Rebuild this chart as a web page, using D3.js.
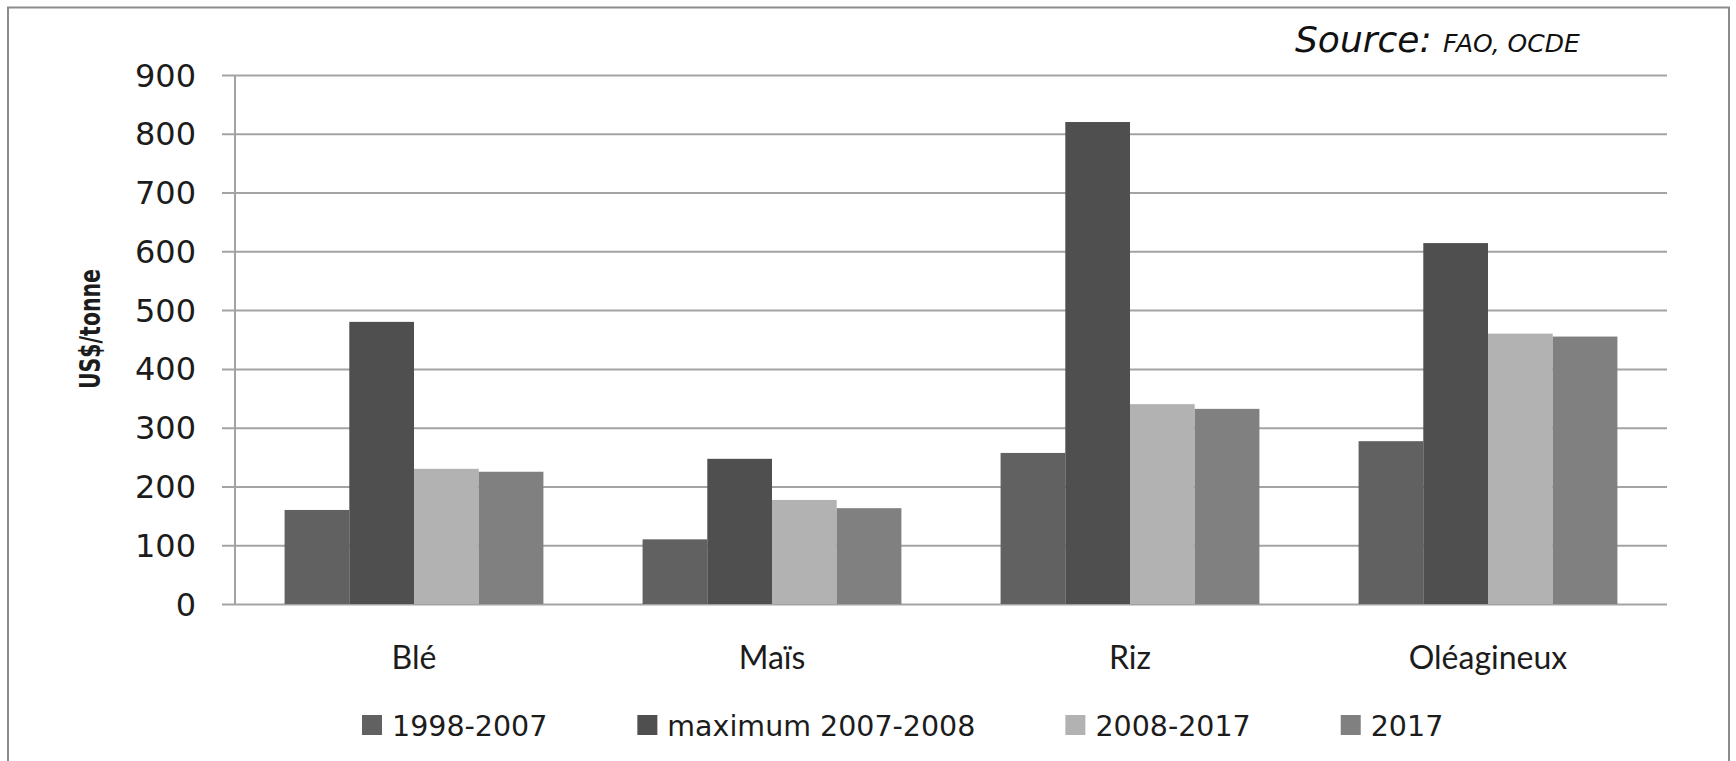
<!DOCTYPE html>
<html>
<head>
<meta charset="utf-8">
<script src="https://cdn.jsdelivr.net/npm/d3@7"></script>
<style>
  html, body { margin: 0; padding: 0; background: #fff; }
  svg { display: block; }
</style>
</head>
<body>
<svg id="chart" width="1736" height="761"></svg>
<script>
// Prix des produits agricoles (US$/tonne)
const categories = ["Blé", "Maïs", "Riz", "Oléagineux"];
const seriesNames = ["1998-2007", "maximum 2007-2008", "2008-2017", "2017"];
const values1998_2007 = [160, 110, 257, 277];
const valuesMax2007_2008 = [480, 247, 820, 614];
const values2008_2017 = [230, 177, 340, 460];
const values2017 = [225, 163, 332, 455];
const yTicks = [0, 100, 200, 300, 400, 500, 600, 700, 800, 900];
const seriesColors = ["#616161", "#4f4f4f", "#b2b2b2", "#808080"];

const seriesValues = [values1998_2007, valuesMax2007_2008, values2008_2017, values2017];
const rows = categories.map((c, i) => ({
  category: c,
  values: seriesNames.map((s, j) => ({ series: s, value: seriesValues[j][i] }))
}));

const svg = d3.select("#chart");
const W = 1736, H = 761;
const plot = { left: 235, right: 1667, top: 75, bottom: 604 };

// outer frame
svg.append("rect")
  .attr("x", 8).attr("y", 7.5)
  .attr("width", 1721).attr("height", H + 20)
  .attr("fill", "#fff").attr("stroke", "#8c8c8c").attr("stroke-width", 2);

const x0 = d3.scaleBand()
  .domain(categories)
  .range([plot.left, plot.right])
  .paddingInner(0.277)
  .paddingOuter(0.1385);

const x1 = d3.scaleBand()
  .domain(seriesNames)
  .range([0, x0.bandwidth()])
  .padding(0);

const y = d3.scaleLinear()
  .domain([0, 900])
  .range([plot.bottom, plot.top]);

const color = d3.scaleOrdinal().domain(seriesNames).range(seriesColors);

// horizontal gridlines with outward ticks
const yAxis = d3.axisLeft(y)
  .tickValues(yTicks)
  .tickSize(-(plot.right - plot.left))
  .tickPadding(0)
  .tickFormat("");

const gGrid = svg.append("g")
  .attr("transform", `translate(${plot.left},0)`)
  .call(yAxis);
gGrid.select(".domain").remove();
gGrid.selectAll(".tick line")
  .attr("x1", -13)
  .attr("stroke", "#a3a3a3")
  .attr("stroke-width", 2);

// tick labels
svg.append("g")
  .selectAll("text")
  .data(yTicks)
  .join("text")
  .attr("x", 196)
  .attr("y", d => y(d))
  .attr("dy", "0.36em")
  .attr("text-anchor", "end")
  .attr("font-family", "'DejaVu Sans', Verdana, sans-serif")
  .attr("font-size", 32)
  .attr("fill", "#1c1c1c")
  .text(d => d3.format("d")(d));

// vertical axis line
svg.append("line")
  .attr("x1", plot.left).attr("x2", plot.left)
  .attr("y1", y(900)).attr("y2", y(0))
  .attr("stroke", "#a3a3a3").attr("stroke-width", 2);

// bars
const groups = svg.append("g")
  .selectAll("g")
  .data(rows)
  .join("g")
  .attr("transform", d => `translate(${x0(d.category)},0)`);

groups.selectAll("rect")
  .data(d => d.values)
  .join("rect")
  .attr("x", d => x1(d.series))
  .attr("y", d => y(d.value))
  .attr("width", x1.bandwidth())
  .attr("height", d => y(0) - y(d.value))
  .attr("fill", d => color(d.series));

// category labels
svg.append("g")
  .selectAll("text")
  .data(categories)
  .join("text")
  .attr("x", d => x0(d) + x0.bandwidth() / 2)
  .attr("y", 669)
  .attr("text-anchor", "middle")
  .attr("font-family", "Lato, 'Open Sans', sans-serif")
  .attr("font-size", 32)
  .attr("fill", "#1c1c1c")
  .text(d => d);

// y-axis title
const yTitle = svg.append("text")
  .attr("transform", "translate(90,329) rotate(-90)")
  .attr("text-anchor", "middle")
  .attr("dominant-baseline", "central")
  .attr("font-family", "'Liberation Sans Narrow', 'DejaVu Sans Condensed', sans-serif")
  .attr("font-weight", "bold")
  .attr("font-size", 29)
  .attr("fill", "#1c1c1c")
  .text("US$/tonne");
if (yTitle.node().getComputedTextLength() > 128) {
  yTitle.attr("textLength", 120).attr("lengthAdjust", "spacingAndGlyphs");
}

// source note
const src = svg.append("text")
  .attr("x", 1295)
  .attr("y", 52)
  .attr("font-family", "'DejaVu Sans', Verdana, sans-serif")
  .attr("font-style", "italic")
  .attr("fill", "#111");
src.append("tspan").attr("font-size", 36).text("Source: ");
src.append("tspan").attr("font-size", 25).text("FAO, OCDE");

// legend
const legend = svg.append("g");
let lx = 362;
seriesNames.forEach(name => {
  legend.append("rect")
    .attr("x", lx).attr("y", 715)
    .attr("width", 20).attr("height", 20)
    .attr("fill", color(name));
  const t = legend.append("text")
    .attr("x", lx + 30)
    .attr("y", 736)
    .attr("font-family", "'DejaVu Sans', Verdana, sans-serif")
    .attr("font-size", 28.5)
    .attr("fill", "#1c1c1c")
    .text(name);
  lx += 30 + t.node().getComputedTextLength() + 90;
});
</script>
</body>
</html>
